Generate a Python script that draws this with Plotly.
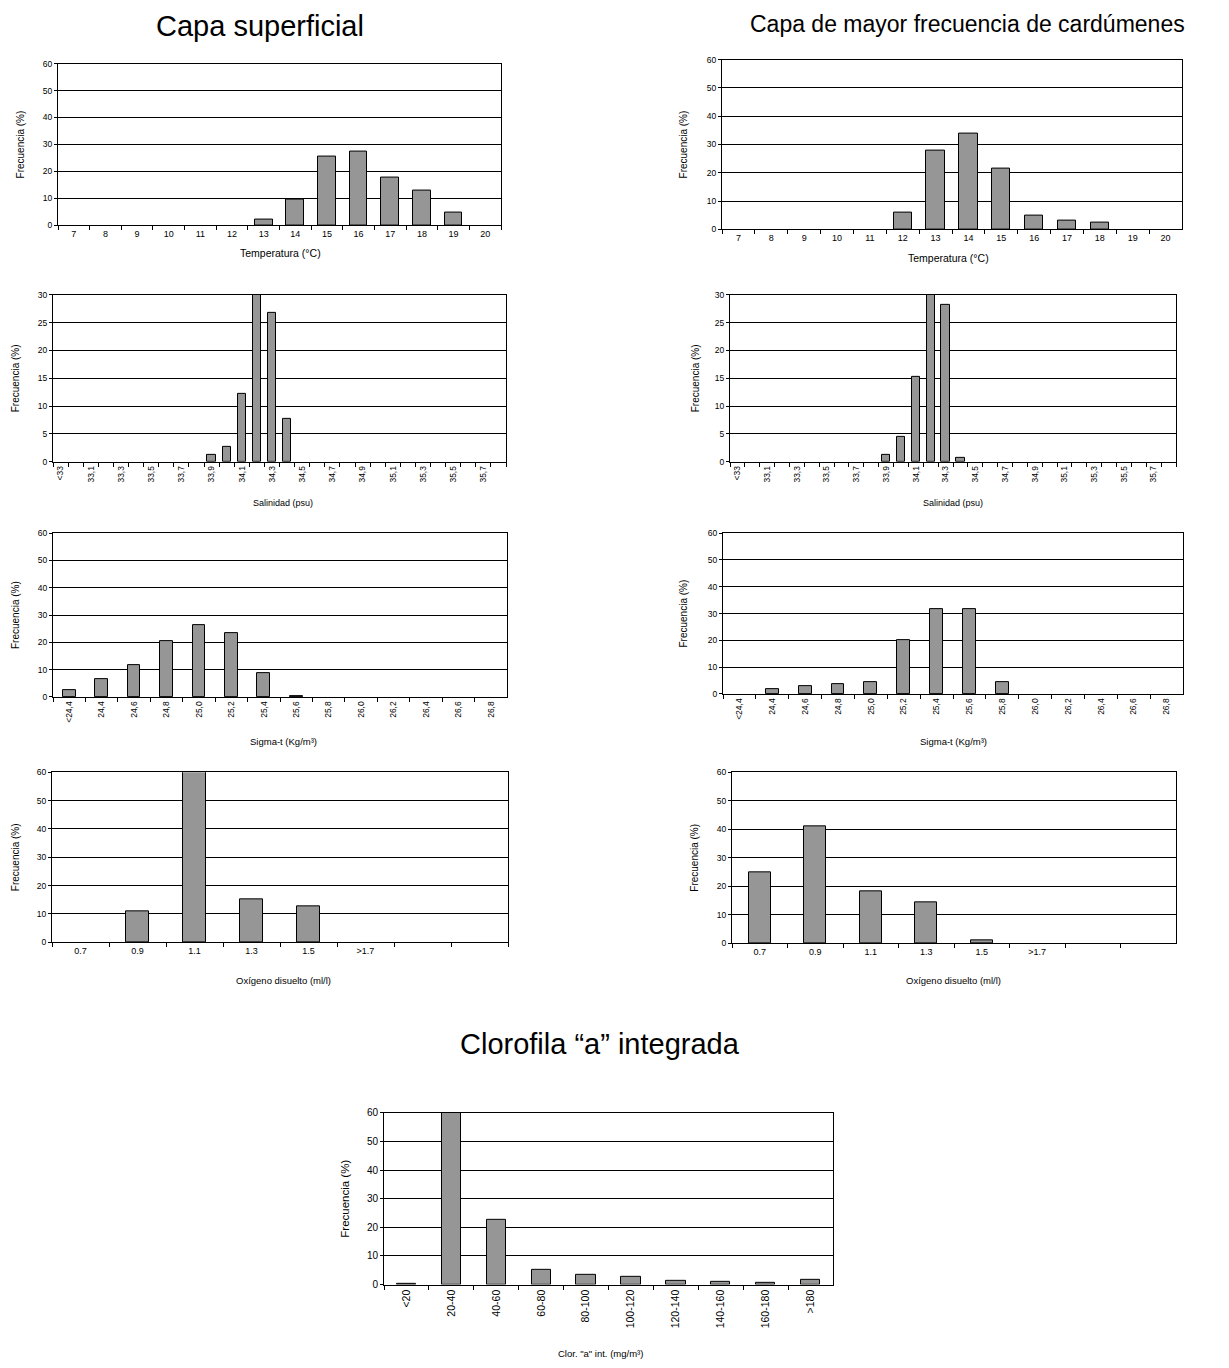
import plotly.graph_objects as go

W, H = 1229, 1368

# ---------------- data ----------------
temp_cats = ["7", "8", "9", "10", "11", "12", "13", "14", "15", "16", "17", "18", "19", "20"]
temp_sup = [0, 0, 0, 0, 0, 0, 2.0, 9.5, 25.5, 27.5, 17.7, 13.0, 4.6, 0]
temp_car = [0, 0, 0, 0, 0, 6.0, 27.8, 33.7, 21.5, 5.0, 3.2, 2.5, 0, 0]

sal_cats = ["<33", "33,0", "33,1", "33,2", "33,3", "33,4", "33,5", "33,6", "33,7", "33,8",
            "33,9", "34,0", "34,1", "34,2", "34,3", "34,4", "34,5", "34,6", "34,7", "34,8",
            "34,9", "35,0", "35,1", "35,2", "35,3", "35,4", "35,5", "35,6", "35,7", "35,8"]
sal_sup = [0, 0, 0, 0, 0, 0, 0, 0, 0, 0,
           1.3, 2.7, 12.2, 49.4, 26.7, 7.7, 0, 0, 0, 0,
           0, 0, 0, 0, 0, 0, 0, 0, 0, 0]
sal_car = [0, 0, 0, 0, 0, 0, 0, 0, 0, 0,
           1.3, 4.4, 15.2, 50.2, 28.2, 0.7, 0, 0, 0, 0,
           0, 0, 0, 0, 0, 0, 0, 0, 0, 0]

sig_cats = ["<24,4", "24,4", "24,6", "24,8", "25,0", "25,2", "25,4", "25,6", "25,8",
            "26,0", "26,2", "26,4", "26,6", "26,8"]
sig_sup = [2.5, 6.6, 11.8, 20.3, 26.4, 23.4, 8.7, 0.3, 0, 0, 0, 0, 0, 0]
sig_car = [0, 1.8, 2.8, 3.7, 4.3, 20.2, 31.7, 31.7, 4.3, 0, 0, 0, 0, 0]

oxy_cats = ["0.7", "0.9", "1.1", "1.3", "1.5", ">1.7", " ", "  "]
oxy_sup = [0, 11.0, 61.4, 15.0, 12.6, 0, 0, 0]
oxy_car = [24.8, 41.2, 18.2, 14.4, 1.1, 0, 0, 0]

chl_cats = ["<20", "20-40", "40-60", "60-80", "80-100", "100-120", "120-140",
            "140-160", "160-180", ">180"]
chl_vals = [0.4, 60.9, 22.7, 5.3, 3.5, 2.6, 1.3, 1.0, 0.7, 1.6]

FONT = "Liberation Sans, Arial, sans-serif"
BAR = "#969696"

fig = go.Figure()
annotations = []


def px_x(v):
    return v / W


def px_y(v):
    return 1 - v / H


def panel(idx, cats, vals, xpx, ypx, yrange, dtick, bw, xtitle, xt_pos, yt_pos,
          tickangle=0, ticktext=None, xtfs=9, ytfs=8.5, xafs=10, yafs=10):
    sfx = "" if idx == 1 else str(idx)
    shown = [v if v > 0 else None for v in vals]   # Excel draws nothing for empty classes
    fig.add_trace(go.Bar(
        x=cats, y=shown, width=bw,
        marker=dict(color=BAR, line=dict(color="black", width=1)),
        xaxis="x" + sfx, yaxis="y" + sfx, showlegend=False, hoverinfo="x+y",
    ))
    xa = dict(
        domain=[px_x(xpx[0]), px_x(xpx[1])], anchor="y" + sfx,
        type="category", categoryorder="array", categoryarray=cats,
        range=[-0.5, len(cats) - 0.5],
        tickmode="array", tickvals=cats,
        ticktext=ticktext if ticktext is not None else cats,
        ticks="outside", tickson="boundaries", ticklen=4, tickcolor="black", tickwidth=1,
        tickangle=tickangle, tickfont=dict(family=FONT, size=xtfs, color="black"),
        showline=True, linecolor="black", linewidth=1, mirror=True,
        showgrid=False, zeroline=False, fixedrange=True,
    )
    ya = dict(
        domain=[px_y(ypx[1]), px_y(ypx[0])], anchor="x" + sfx,
        range=list(yrange), dtick=dtick, tick0=0,
        ticks="outside", ticklen=3, tickcolor="black", tickwidth=1,
        tickfont=dict(family=FONT, size=ytfs, color="black"),
        showline=True, linecolor="black", linewidth=1, mirror=True,
        showgrid=True, gridcolor="black", gridwidth=1,
        zeroline=False, fixedrange=True,
    )
    fig.layout["xaxis" + sfx] = xa
    fig.layout["yaxis" + sfx] = ya
    annotations.append(dict(
        text=xtitle, x=px_x(xt_pos[0]), y=px_y(xt_pos[1]), xref="paper", yref="paper",
        xanchor="center", yanchor="middle", showarrow=False,
        font=dict(family=FONT, size=xafs, color="black"),
    ))
    annotations.append(dict(
        text="Frecuencia (%)", x=px_x(yt_pos), y=px_y((ypx[0] + ypx[1]) / 2),
        xref="paper", yref="paper", xanchor="center", yanchor="middle",
        textangle=-90, showarrow=False,
        font=dict(family=FONT, size=yafs, color="black"),
    ))


sal_text = [c if i % 2 == 0 else "" for i, c in enumerate(sal_cats)]

panel(1, temp_cats, temp_sup, (58, 501), (59, 222), (0, 60), 10, 0.56,
      "Temperatura (°C)", (280, 250), 20, xtfs=9, xafs=10.5)
panel(2, temp_cats, temp_car, (722, 1182), (55, 226), (0, 60), 10, 0.56,
      "Temperatura (°C)", (948, 255), 683, xtfs=9, xafs=10.5)
panel(3, sal_cats, sal_sup, (53, 506), (292, 460), (0, 30), 5, 0.55,
      "Salinidad (psu)", (283, 502), 15, tickangle=-90, ticktext=sal_text,
      xtfs=8.5, xafs=9)
panel(4, sal_cats, sal_car, (730, 1176), (292, 460), (0, 30), 5, 0.55,
      "Salinidad (psu)", (953, 502), 695, tickangle=-90, ticktext=sal_text,
      xtfs=8.5, xafs=9)
panel(5, sig_cats, sig_sup, (53, 507), (532, 697), (0, 60), 10, 0.39,
      "Sigma-t (Kg/m³)", (283, 742), 15, tickangle=-90, xtfs=8.5, xafs=9.5)
panel(6, sig_cats, sig_car, (723, 1183), (532, 694), (0, 60), 10, 0.39,
      "Sigma-t (Kg/m³)", (953, 742), 684, tickangle=-90, xtfs=8.5, xafs=9.5)
panel(7, oxy_cats, oxy_sup, (52, 508), (773, 944), (0, 60), 10, 0.39,
      "Oxígeno disuelto (ml/l)", (283, 983), 15, xtfs=9, xafs=9.5)
panel(8, oxy_cats, oxy_car, (732, 1176), (773, 945), (0, 60), 10, 0.39,
      "Oxígeno disuelto (ml/l)", (953, 983), 695, xtfs=9, xafs=9.5)
panel(9, chl_cats, chl_vals, (384, 833), (1116, 1289), (0, 60), 10, 0.43,
      "Clor. \"a\" int. (mg/m³)", (600, 1358), 345, tickangle=-90,
      xtfs=10.5, ytfs=10, xafs=9.5, yafs=11.5)

for text, cx, cy, fs in [("Capa superficial", 260, 21, 29),
                         ("Capa de mayor frecuencia de cardúmenes", 967, 19, 23),
                         ("Clorofila “a” integrada", 600, 1047, 29)]:
    annotations.append(dict(
        text=text, x=px_x(cx), y=px_y(cy), xref="paper", yref="paper",
        xanchor="center", yanchor="middle", showarrow=False,
        font=dict(family=FONT, size=fs, color="black"),
    ))

fig.update_layout(
    width=W, height=H, margin=dict(l=0, r=0, t=0, b=0),
    paper_bgcolor="white", plot_bgcolor="white",
    bargap=0, annotations=annotations, showlegend=False,
    font=dict(family=FONT, color="black"),
)

fig.write_html("out.html", config={"displayModeBar": False},
               post_script="document.body.style.margin='0';document.body.style.overflow='hidden';")
